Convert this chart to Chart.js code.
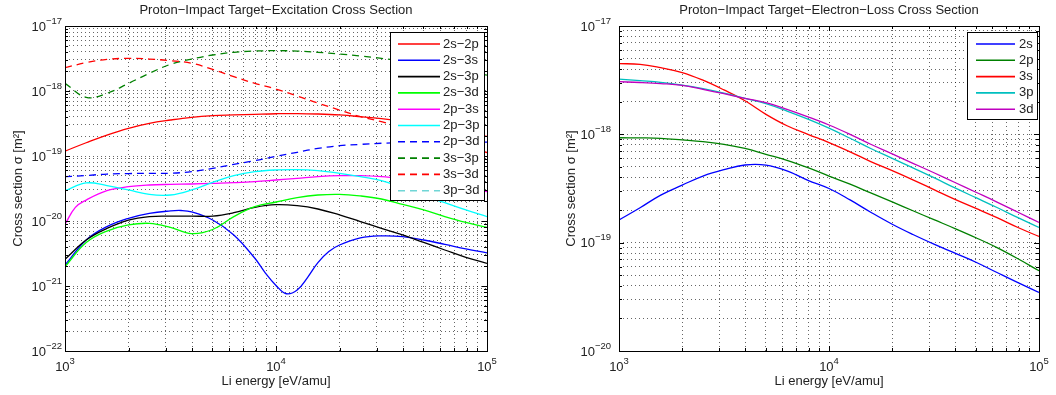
<!DOCTYPE html>
<html lang="en">

<head>
    <meta charset="UTF-8">
    <title>Proton-Impact Cross Sections</title>
    <script src="https://cdn.jsdelivr.net/npm/chart.js@4.4.1/dist/chart.umd.min.js"></script>
    <style>
        body {
            margin: 0;
            background: white;
        }

        .panel {
            position: absolute;
            top: 0;
            width: 528px;
            height: 395px;
        }

        #leftPanel {
            left: 0;
        }

        #rightPanel {
            left: 528px;
        }
    </style>
</head>

<body>
    <div class="panel" id="leftPanel"><canvas id="excitation" width="528" height="395"></canvas></div>
    <div class="panel" id="rightPanel"><canvas id="loss" width="528" height="395"></canvas></div>

<script>
    // energies [eV/amu] where the curves were read
    const energy = [1000, 1260, 1580, 2000, 2510, 3160, 3980, 5010, 6310, 7940, 10000,
        12600, 15800, 20000, 25100, 31600, 39800, 50100, 63100, 79400, 100000]
    const energy2s3s = [1000, 1260, 1580, 2000, 2510, 3160, 3550, 3980, 5010, 6310, 7940, 8910, 10000,
        11200, 12600, 14100, 15800, 17800, 20000, 25100, 31600, 39800, 50100, 63100, 79400, 100000]
    const energy2p3s = [1000, 1120, 1260, 1580, 2000, 2510, 3160, 3980, 5010, 6310, 7940, 10000,
        12600, 15800, 20000, 25100, 31600, 39800, 50100, 63100, 79400, 100000]

    // excitation cross sections [m^2]
    const exc2s2p = [1.19e-19, 1.60e-19, 2.10e-19, 2.67e-19, 3.18e-19, 3.58e-19, 3.94e-19, 4.17e-19, 4.28e-19, 4.38e-19, 4.47e-19,
        4.50e-19, 4.43e-19, 4.28e-19, 4.03e-19, 3.75e-19, 3.39e-19, 3.02e-19, 2.63e-19, 2.29e-19, 2.00e-19]
    const exc2s3s = [2.10e-21, 5.1e-21, 8.2e-21, 1.10e-20, 1.31e-20, 1.43e-20, 1.45e-20, 1.38e-20, 1.035e-20, 6.1e-21, 2.67e-21, 1.58e-21, 1.02e-21,
        7.6e-22, 8.7e-22, 1.35e-21, 2.29e-21, 3.39e-21, 4.27e-21, 5.5e-21, 5.9e-21, 5.75e-21, 5.1e-21, 4.37e-21, 3.72e-21, 3.24e-21]
    const exc2s3p = [2.57e-21, 5.1e-21, 7.7e-21, 1.035e-20, 1.17e-20, 1.19e-20, 1.19e-20, 1.19e-20, 1.34e-20, 1.62e-20, 1.78e-20,
        1.72e-20, 1.53e-20, 1.24e-20, 9.8e-21, 7.7e-21, 6.1e-21, 4.68e-21, 3.58e-21, 2.76e-21, 2.23e-21]
    const exc2s3d = [1.98e-21, 4.65e-21, 7.0e-21, 8.7e-21, 9.2e-21, 8.0e-21, 6.4e-21, 7.4e-21, 1.17e-20, 1.66e-20, 1.96e-20,
        2.29e-20, 2.51e-20, 2.57e-20, 2.43e-20, 2.18e-20, 1.80e-20, 1.48e-20, 1.17e-20, 9.5e-21, 8.0e-21]
    const exc2p3s = [8.9e-21, 1.62e-20, 2.10e-20, 2.93e-20, 3.37e-20, 3.58e-20, 3.66e-20, 3.71e-20, 3.80e-20, 3.89e-20, 4.03e-20, 4.27e-20,
        4.53e-20, 4.81e-20, 4.98e-20, 4.98e-20, 4.81e-20, 4.47e-20, 4.07e-20, 3.63e-20, 3.24e-20, 2.82e-20]
    const exc2p3p = [2.93e-20, 3.85e-20, 3.50e-20, 3.00e-20, 2.56e-20, 2.51e-20, 3.00e-20, 3.94e-20, 4.98e-20, 5.74e-20, 6.10e-20,
        6.17e-20, 5.94e-20, 5.41e-20, 4.81e-20, 4.17e-20, 3.24e-20, 2.45e-20, 1.91e-20, 1.48e-20, 1.17e-20]
    const exc2p3d = [4.81e-20, 5.01e-20, 5.28e-20, 5.37e-20, 5.41e-20, 5.43e-20, 5.74e-20, 6.46e-20, 7.45e-20, 8.47e-20, 9.9e-20,
        1.14e-19, 1.31e-19, 1.44e-19, 1.51e-19, 1.57e-19, 1.60e-19, 1.62e-19, 1.64e-19, 1.64e-19, 1.64e-19]
    const exc3s3p = [1.31e-18, 8.0e-19, 9.2e-19, 1.31e-18, 1.87e-18, 2.57e-18, 3.10e-18, 3.58e-18, 3.94e-18, 4.12e-18, 4.17e-18,
        4.12e-18, 3.94e-18, 3.71e-18, 3.45e-18, 3.18e-18, 2.88e-18, 2.57e-18, 2.29e-18, 2.00e-18, 1.76e-18]
    const exc3s3d = [2.29e-18, 2.73e-18, 3.07e-18, 3.18e-18, 3.10e-18, 2.93e-18, 2.67e-18, 2.15e-18, 1.66e-18, 1.31e-18, 1.07e-18,
        8.4e-19, 6.5e-19, 5.1e-19, 4.03e-19, 3.37e-19, 2.69e-19, 2.14e-19, 1.74e-19, 1.40e-19, 1.13e-19]
    const exc3p3d = []

    // electron-loss cross sections [m^2]
    const loss2s = [1.62e-19, 2.10e-19, 2.75e-19, 3.40e-19, 4.12e-19, 4.72e-19, 5.21e-19, 5.19e-19, 4.59e-19, 3.76e-19, 3.16e-19,
        2.48e-19, 1.91e-19, 1.48e-19, 1.19e-19, 9.7e-20, 8.0e-20, 6.6e-20, 5.3e-20, 4.27e-20, 3.47e-20]
    const loss2p = [9.3e-19, 9.27e-19, 9.18e-19, 8.87e-19, 8.55e-19, 8.09e-19, 7.41e-19, 6.53e-19, 5.75e-19, 4.92e-19, 4.12e-19,
        3.47e-19, 2.88e-19, 2.38e-19, 1.97e-19, 1.63e-19, 1.35e-19, 1.11e-19, 9.0e-20, 7.1e-20, 5.5e-20]
    const loss3s = [4.49e-18, 4.43e-18, 4.12e-18, 3.72e-18, 3.16e-18, 2.57e-18, 2.04e-18, 1.53e-18, 1.20e-18, 1.00e-18, 8.4e-19,
        6.9e-19, 5.6e-19, 4.62e-19, 3.80e-19, 3.09e-19, 2.51e-19, 2.07e-19, 1.70e-19, 1.38e-19, 1.14e-19]
    const loss3p = [3.24e-18, 3.13e-18, 3.02e-18, 2.85e-18, 2.64e-18, 2.40e-18, 2.15e-18, 1.92e-18, 1.64e-18, 1.38e-18, 1.14e-18,
        9.2e-19, 7.4e-19, 6.0e-19, 4.9e-19, 3.98e-19, 3.20e-19, 2.60e-19, 2.11e-19, 1.70e-19, 1.38e-19]
    const loss3d = [3.06e-18, 3.01e-18, 2.94e-18, 2.83e-18, 2.60e-18, 2.37e-18, 2.15e-18, 1.96e-18, 1.70e-18, 1.45e-18, 1.22e-18,
        1.00e-18, 8.1e-19, 6.6e-19, 5.4e-19, 4.42e-19, 3.59e-19, 2.92e-19, 2.37e-19, 1.91e-19, 1.54e-19]

    const excLabels = ['2s−2p', '2s−3s', '2s−3p', '2s−3d', '2p−3s', '2p−3p', '2p−3d', '3s−3p', '3s−3d', '3p−3d']
    const lossLabels = ['2s', '2p', '3s', '3p', '3d']

    const FONT = '"Liberation Sans", Arial, sans-serif'
    Chart.defaults.font.family = FONT
    Chart.defaults.font.size = 13
    Chart.defaults.color = '#222'

    function isDecade(v) {
        const e = Math.log10(v)
        return Math.abs(e - Math.round(e)) < 1e-6
    }

    // 1..9 x 10^e grid like matlab's minor grid
    function logTicks(lo, hi) {
        const t = []
        for (let e = lo; e < hi; e++) {
            for (let m = 1; m < 10; m++) t.push({ value: m * Math.pow(10, e) })
        }
        t.push({ value: Math.pow(10, hi) })
        return t
    }

    function pairs(xs, ys) {
        return ys.map((y, i) => ({ x: xs[i], y: y }))
    }

    function line(label, xs, ys, color, dashed) {
        return {
            label: label,
            data: pairs(xs, ys),
            borderColor: color,
            borderWidth: 1.3,
            borderDash: dashed ? [7, 5] : [],
            pointRadius: 0,
            fill: false,
            tension: 0.4
        }
    }

    const frame = {
        id: 'frame',
        afterDraw(chart, args, o) {
            const { ctx, chartArea: a, scales } = chart
            ctx.save()
            ctx.strokeStyle = '#000'
            ctx.lineWidth = 1
            ctx.beginPath()
            scales.x.ticks.forEach(t => {
                const px = Math.round(scales.x.getPixelForValue(t.value)) + 0.5
                const len = isDecade(t.value) ? 5 : 3
                ctx.moveTo(px, a.bottom); ctx.lineTo(px, a.bottom - len)
                ctx.moveTo(px, a.top); ctx.lineTo(px, a.top + len)
            })
            scales.y.ticks.forEach(t => {
                const py = Math.round(scales.y.getPixelForValue(t.value)) + 0.5
                const len = isDecade(t.value) ? 5 : 3
                ctx.moveTo(a.left, py); ctx.lineTo(a.left + len, py)
                ctx.moveTo(a.right, py); ctx.lineTo(a.right - len, py)
            })
            ctx.stroke()
            ctx.strokeRect(Math.round(a.left) + 0.5, Math.round(a.top) + 0.5, Math.round(a.width), Math.round(a.height))

            // decade labels as 10 with a raised exponent
            ctx.fillStyle = '#222'
            ctx.textBaseline = 'middle'
            ctx.textAlign = 'left'
            const big = '13px ' + FONT, small = '9.5px ' + FONT
            const label = (v, x, y, align) => {
                const exp = String(Math.round(Math.log10(v))).replace('-', '−')
                ctx.font = big
                const wb = ctx.measureText('10').width
                ctx.font = small
                const we = ctx.measureText(exp).width
                const x0 = align === 'right' ? x - wb - we : x - (wb + we) / 2
                ctx.font = big
                ctx.fillText('10', x0, y)
                ctx.font = small
                ctx.fillText(exp, x0 + wb, y - 6)
            }
            scales.y.ticks.forEach(t => {
                if (isDecade(t.value)) label(t.value, a.left - o.yPad, scales.y.getPixelForValue(t.value) + 1, 'right')
            })
            scales.x.ticks.forEach(t => {
                if (isDecade(t.value)) label(t.value, scales.x.getPixelForValue(t.value), a.bottom + 16, 'center')
            })
            ctx.restore()
        }
    }

    const boxLegend = {
        id: 'boxLegend',
        afterDraw(chart, args, o) {
            const { ctx, chartArea: a } = chart
            const x0 = Math.round(a.right - o.rightGap - o.width)
            const y0 = Math.round(a.top + o.topGap)
            ctx.save()
            ctx.fillStyle = '#fff'
            ctx.fillRect(x0, y0, o.width, o.height)
            ctx.strokeStyle = '#000'
            ctx.lineWidth = 1
            ctx.strokeRect(x0 + 0.5, y0 + 0.5, o.width, o.height)
            ctx.font = '13px ' + FONT
            ctx.textBaseline = 'middle'
            chart.data.datasets.forEach((ds, i) => {
                const y = y0 + o.firstRow + i * o.rowH
                ctx.strokeStyle = ds.borderColor
                ctx.lineWidth = 1.6
                ctx.setLineDash(ds.borderDash || [])
                ctx.beginPath()
                ctx.moveTo(x0 + o.lineStart, y)
                ctx.lineTo(x0 + o.lineStart + o.lineLen, y)
                ctx.stroke()
                ctx.setLineDash([])
                ctx.fillStyle = '#222'
                ctx.fillText(ds.label, x0 + o.textX, y)
            })
            ctx.restore()
        }
    }

    function axes(yLo, yHi, yWidth, yTitlePad) {
        const grid = { color: 'rgba(0,0,0,0.6)', lineWidth: 1, drawTicks: false }
        const border = { display: false, dash: [1, 3] }
        return {
            x: {
                type: 'logarithmic', min: 1000, max: 100000,
                afterBuildTicks: s => { s.ticks = logTicks(3, 5) },
                afterFit: s => { s.height = 44 },
                ticks: { display: false, autoSkip: false },
                grid: grid, border: border,
                title: { display: true, text: 'Li energy [eV/amu]', padding: { top: 0, bottom: 6 } }
            },
            y: {
                type: 'logarithmic', min: Math.pow(10, yLo), max: Math.pow(10, yHi),
                afterBuildTicks: s => { s.ticks = logTicks(yLo, yHi) },
                afterFit: s => { s.width = yWidth },
                ticks: { display: false, autoSkip: false },
                grid: grid, border: border,
                title: { display: true, text: 'Cross section σ [m²]', padding: { top: yTitlePad, bottom: 0 } }
            }
        }
    }

    function opts(title, yLo, yHi, yWidth, yPad, yTitlePad, padRight, legendBox) {
        return {
            responsive: false,
            animation: false,
            layout: { padding: { left: 0, right: padRight, top: 0, bottom: 0 } },
            scales: axes(yLo, yHi, yWidth, yTitlePad),
            plugins: {
                legend: { display: false },
                tooltip: { enabled: false },
                title: {
                    display: true, text: title, fullSize: false,
                    font: { size: 13, weight: 'normal' }, padding: { top: 3, bottom: 7.4 }
                },
                frame: { yPad: yPad },
                boxLegend: legendBox
            }
        }
    }

    const excColors = ['#ff0000', '#0000ff', '#000000', '#00ff00', '#ff00ff', '#00ffff', '#0000ff', '#008000', '#ff0000', '#70d6d6']
    const excX = [energy, energy2s3s, energy, energy, energy2p3s, energy, energy, energy, energy, energy]
    const excY = [exc2s2p, exc2s3s, exc2s3p, exc2s3d, exc2p3s, exc2p3p, exc2p3d, exc3s3p, exc3s3d, exc3p3d]

    const excSets = excLabels.map((name, i) => {
        const ds = line(name, excX[i], excY[i], excColors[i], i >= 6)
        ds.order = excLabels.length - i
        return ds
    })

    new Chart('excitation', {
        type: 'line',
        data: { datasets: excSets },
        options: opts('Proton−Impact Target−Excitation Cross Section', -22, -17, 65, 3, 10.5, 41,
            { width: 94, height: 168, rightGap: 3, topGap: 6, firstRow: 12, rowH: 16.3, lineStart: 8, lineLen: 42, textX: 53 }),
        plugins: [frame, boxLegend]
    })

    const lossColors = ['#0000ff', '#008000', '#ff0000', '#00bfbf', '#bf00bf']
    const lossY = [loss2s, loss2p, loss3s, loss3p, loss3d]

    const lossSets = lossLabels.map((name, i) => {
        const ds = line(name, energy, lossY[i], lossColors[i], false)
        ds.order = lossLabels.length - i
        return ds
    })

    new Chart('loss', {
        type: 'line',
        data: { datasets: lossSets },
        options: opts('Proton−Impact Target−Electron−Loss Cross Section', -20, -17, 91, 8, 36, 17,
            { width: 70, height: 87, rightGap: 2, topGap: 6, firstRow: 12, rowH: 16.3, lineStart: 9, lineLen: 39, textX: 52 }),
        plugins: [frame, boxLegend]
    })
</script>
</body>

</html>
